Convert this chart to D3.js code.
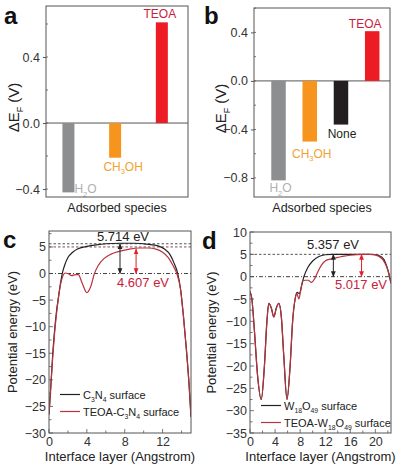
<!DOCTYPE html>
<html><head><meta charset="utf-8">
<script src="https://cdn.jsdelivr.net/npm/d3@7"></script>
<style>
html,body{margin:0;padding:0;background:#fff;}
svg{display:block;font-family:Arial,"Liberation Sans",Helvetica,sans-serif;}
</style></head>
<body>
<svg id="chart" width="400" height="472"></svg>
<script>
// ---------- DATA ----------
const catsA = ["H2O", "CH3OH", "TEOA"];
const valsA = [-0.42, -0.21, 0.61];
const ticksA = [-0.4, 0.0, 0.4];

const catsB = ["H2O", "CH3OH", "None", "TEOA"];
const valsB = [-0.82, -0.50, -0.36, 0.41];
const ticksB = [-0.8, -0.4, 0.0, 0.4];

const xTicksC = [0, 4, 8, 12];
const yTicksC = [-30, -25, -20, -15, -10, -5, 0, 5];
const curveC_C3N4 = [[0,-26.5],[0.2,-21],[0.4,-15],[0.6,-10.5],[0.8,-7],[1.0,-4.5],[1.2,-2],[1.4,0],[1.7,1.8],[2.0,3.0],[2.5,4.0],[3.0,4.6],[4.0,5.1],[5.0,5.4],[6.0,5.6],[7.5,5.7],[9.0,5.7],[10.5,5.5],[11.5,5.2],[12.2,4.6],[12.8,3.5],[13.2,2.0],[13.6,0],[13.9,-3],[14.2,-8],[14.5,-14],[14.8,-21],[15,-27]];
const curveC_TEOA = [[0,-26.5],[0.2,-21],[0.4,-15.5],[0.6,-11],[0.8,-7.5],[1.0,-4.5],[1.2,-2.2],[1.45,-0.5],[1.7,0.1],[2.0,0],[2.4,-0.4],[2.8,-0.2],[3.1,-0.2],[3.5,-1.8],[4.0,-3.6],[4.4,-2.5],[4.8,0],[5.2,1.5],[5.8,2.8],[6.5,3.6],[7.5,4.2],[8.5,4.6],[9.5,4.8],[10.5,4.8],[11.3,4.6],[12.0,4.0],[12.6,3.0],[13.1,1.5],[13.5,0],[13.9,-3],[14.2,-8],[14.5,-14],[14.8,-21],[15,-27]];
const refC = [5.6, 5.0];          // dashed reference levels
const arrowC = [[7.5, 5.6], [9.2, 4.6]]; // [x, top] arrows down to 0
const annC = ["5.714 eV", "4.607 eV"];

const xTicksD = [0, 4, 8, 12, 16, 20];
const yTicksD = [-35, -30, -25, -20, -15, -10, -5, 0, 5, 10];
const curveD_W = [[0,-3.3],[0.3,-5],[0.7,-12],[1.2,-22],[1.8,-27.5],[2.3,-20],[2.7,-10],[3.0,-6],[3.4,-7],[3.8,-9],[4.2,-7],[4.6,-6],[5.0,-9],[5.4,-18],[5.9,-27.5],[6.4,-20],[6.8,-10],[7.2,-5],[7.5,-3.5],[7.9,-3.8],[8.2,-2.2],[8.6,0],[9.2,2],[10,3.5],[11,4.5],[12,4.9],[13,5],[16,5],[19,5],[20,4.9],[21,4.4],[21.6,3.2],[22,1.5],[22.5,-1.5]];
const curveD_TEOA = [[0,-3.3],[0.3,-5],[0.7,-12],[1.2,-22],[1.8,-27.5],[2.3,-20],[2.7,-10],[3.0,-6],[3.4,-7],[3.8,-9],[4.2,-7],[4.6,-6],[5.0,-9],[5.4,-18],[5.9,-27.5],[6.4,-20],[6.8,-10],[7.2,-5],[7.5,-3.8],[7.8,-5],[8.1,-3],[8.4,-1],[8.8,-0.8],[9.3,-0.8],[9.8,-1.3],[10.3,-0.5],[10.8,1.0],[11.4,2.6],[12,3.5],[13,4.0],[14,4.3],[15,4.6],[16,4.8],[18,5],[19.5,5],[20.5,4.6],[21.2,3.8],[21.8,2.2],[22.2,0.5],[22.5,-1.5]];
const refD = [5.0];
const arrowD = [[13.3, 5.0], [17.8, 5.0]];
const annD = ["5.357 eV", "5.017 eV"];

// ---------- STYLE ----------
const barColors = {H2O:"#8d8e90", CH3OH:"#f7941d", None:"#231f20", TEOA:"#ed1c24"};
const labelColors = {H2O:"#b0b0b0", CH3OH:"#f0a232", None:"#231f20", TEOA:"#c9213c"};
const labelParts = {H2O:[["H"],["2",1],["O"]], CH3OH:[["CH"],["3",1],["OH"]], None:[["None"]], TEOA:[["TEOA"]]};
const cBlack = "#222222", cRed = "#b8323f", frameCol = "#555555";

const svg = d3.select("#chart");
const defs = svg.append("defs");
function marker(id, col){
  defs.append("marker").attr("id", id).attr("viewBox","0 0 10 10").attr("refX",9).attr("refY",5)
    .attr("markerWidth",6).attr("markerHeight",6).attr("orient","auto-start-reverse")
    .append("path").attr("d","M0,1L10,5L0,9Z").attr("fill", col);
}
marker("arrK", cBlack); marker("arrR", "#e0202e");

function rich(sel, parts, size){
  parts.forEach(p=>{
    const t = sel.append("tspan").text(p[0]);
    if (p[1]) t.attr("font-size", size*0.62).attr("dy", size*0.28);
    else if (sel.selectAll("tspan").size()>1) t.attr("dy", -size*0.28).attr("font-size", size);
  });
}

// ---------- BAR PANELS ----------
function barPanel(o){
  const g = svg.append("g");
  const x = d3.scaleLinear().domain(o.xDom).range([o.x0, o.x1]);
  const y = d3.scaleLinear().domain(o.yDom).range([o.y1, o.y0]);
  // minor ticks
  const minor = d3.range(Math.ceil(o.yDom[0]/0.2)*0.2, o.yDom[1], 0.2).map(v=>+v.toFixed(2));
  g.selectAll(".mn").data(minor).join("line").attr("x1",o.x0).attr("x2",o.x0+2)
    .attr("y1",d=>y(d)).attr("y2",d=>y(d)).attr("stroke",frameCol).attr("stroke-width",0.8);
  const ax = g.append("g").attr("transform",`translate(${o.x0},0)`)
    .call(d3.axisLeft(y).tickValues(o.ticks).tickFormat(d3.format(".1f")).tickSize(3).tickPadding(3));
  ax.select(".domain").remove();
  ax.selectAll("line").attr("stroke",frameCol);
  ax.selectAll("text").attr("font-size",12.5).attr("fill","#333").attr("font-family","Arial,'Liberation Sans',sans-serif");
  // zero line
  g.append("line").attr("x1",o.x0).attr("x2",o.x1).attr("y1",y(0)).attr("y2",y(0)).attr("stroke",frameCol).attr("stroke-width",1);
  // bars
  g.selectAll(".bar").data(o.vals).join("rect")
    .attr("x",(d,i)=>x(i)-o.bw/2).attr("width",o.bw)
    .attr("y",d=>y(Math.max(0,d))).attr("height",d=>Math.abs(y(d)-y(0)))
    .attr("fill",(d,i)=>barColors[o.cats[i]]);
  // labels
  o.cats.forEach((c,i)=>{
    const v = o.vals[i], off = o.lab[i];
    const t = g.append("text").attr("x", x(i)+off[0]).attr("y", y(v)+off[1])
      .attr("text-anchor", off[2]||"middle").attr("font-size",12).attr("fill",labelColors[c]);
    rich(t, labelParts[c], 12);
  });
  // frame
  g.append("rect").attr("x",o.x0).attr("y",o.y0).attr("width",o.x1-o.x0).attr("height",o.y1-o.y0)
    .attr("fill","none").attr("stroke",frameCol).attr("stroke-width",1);
  // axis titles
  g.append("text").attr("x",(o.x0+o.x1)/2).attr("y",o.y1+15).attr("text-anchor","middle")
    .attr("font-size",12.5).attr("fill","#222").text("Adsorbed species");
  const yt = g.append("text").attr("transform",`translate(${o.titleX},${(o.y0+o.y1)/2+6}) rotate(-90)`)
    .attr("text-anchor","middle").attr("font-size",15).attr("fill","#222");
  yt.append("tspan").text("ΔE");
  yt.append("tspan").text("F").attr("font-size",9).attr("dy",4);
  yt.append("tspan").text(" (V)").attr("font-size",15).attr("dy",-4);
  // panel letter
  svg.append("text").attr("x",o.letterX).attr("y",24).attr("font-size",24).attr("font-weight","bold")
    .attr("fill","#111").text(o.letter);
}

barPanel({cats:catsA, vals:valsA, ticks:ticksA, x0:46, x1:188, y0:6, y1:197,
  xDom:[-0.48,2.56], yDom:[-0.448,0.709], bw:12, titleX:19, letter:"a", letterX:4,
  lab:[[6,1,"start"],[8,13],[-2,-4]]});
barPanel({cats:catsB, vals:valsB, ticks:ticksB, x0:254, x1:390, y0:8, y1:197,
  xDom:[-0.785,3.57], yDom:[-0.957,0.601], bw:14.5, titleX:226, letter:"b", letterX:204,
  lab:[[2,12],[2,16],[1,13],[-7,-3]]});

// ---------- LINE PANELS ----------
function linePanel(o){
  const g = svg.append("g");
  const x = d3.scaleLinear().domain(o.xDom).range([o.x0,o.x1]);
  const y = d3.scaleLinear().domain(o.yDom).range([o.y1,o.y0]);
  const clipId = "clip"+o.letter;
  defs.append("clipPath").attr("id",clipId).append("rect")
    .attr("x",o.x0).attr("y",o.y0).attr("width",o.x1-o.x0).attr("height",o.y1-o.y0);
  // minor ticks
  const mx = d3.range(o.xDom[0], o.xDom[1]+0.001, 2);
  g.selectAll(".mx").data(mx).join("line").attr("x1",d=>x(d)).attr("x2",d=>x(d))
    .attr("y1",o.y1).attr("y2",d=>o.y1-(d%4===0?4:2.5)).attr("stroke",frameCol).attr("stroke-width",0.8);
  const my = d3.range(o.yDom[0], o.yDom[1]+0.001, 2.5);
  g.selectAll(".my").data(my).join("line").attr("x1",o.x0).attr("x2",d=>o.x0+(d%5===0?4:2.5))
    .attr("y1",d=>y(d)).attr("y2",d=>y(d)).attr("stroke",frameCol).attr("stroke-width",0.8);
  // axes labels
  const ax = g.append("g").attr("transform",`translate(0,${o.y1})`)
    .call(d3.axisBottom(x).tickValues(o.xTicks).tickSize(0).tickPadding(4));
  ax.select(".domain").remove();
  ax.selectAll("text").attr("font-size",12.5).attr("fill","#333").attr("font-family","Arial,'Liberation Sans',sans-serif");
  const ay = g.append("g").attr("transform",`translate(${o.x0},0)`)
    .call(d3.axisLeft(y).tickValues(o.yTicks).tickSize(0).tickPadding(3));
  ay.select(".domain").remove();
  ay.selectAll("text").attr("font-size",12.5).attr("fill","#333").attr("font-family","Arial,'Liberation Sans',sans-serif");
  // reference lines
  g.append("line").attr("x1",o.x0).attr("x2",o.x1).attr("y1",y(0)).attr("y2",y(0))
    .attr("stroke","#444").attr("stroke-width",1).attr("stroke-dasharray","4,2,1,2");
  o.refs.forEach((r,i)=>{
    g.append("line").attr("x1",o.x0).attr("x2",o.x1).attr("y1",y(r)).attr("y2",y(r))
      .attr("stroke", i===0?"#555":"#8a4a55").attr("stroke-width",1).attr("stroke-dasharray","2.5,2");
  });
  // curves
  const line = d3.line().x(d=>x(d[0])).y(d=>y(d[1])).curve(d3.curveMonotoneX);
  const cg = g.append("g").attr("clip-path",`url(#${clipId})`);
  cg.append("path").datum(o.black).attr("d",line).attr("fill","none").attr("stroke",cBlack).attr("stroke-width",1.2);
  cg.append("path").datum(o.red).attr("d",line).attr("fill","none").attr("stroke",cRed).attr("stroke-width",1.2);
  // arrows
  o.arrows.forEach((a,i)=>{
    g.append("line").attr("x1",x(a[0])).attr("x2",x(a[0])).attr("y1",y(a[1])).attr("y2",y(0))
      .attr("stroke", i===0?cBlack:"#e0202e").attr("stroke-width",1)
      .attr("marker-start", `url(#${i===0?"arrK":"arrR"})`).attr("marker-end", `url(#${i===0?"arrK":"arrR"})`);
  });
  // annotations
  g.append("text").attr("x",o.ann[0][0]).attr("y",o.ann[0][1]).attr("font-size",13).attr("fill","#222").text(o.annText[0]);
  g.append("text").attr("x",o.ann[1][0]).attr("y",o.ann[1][1]).attr("font-size",13).attr("fill","#c9213c").text(o.annText[1]);
  // legend
  o.legend.forEach((L,i)=>{
    const ly = o.legY[i];
    g.append("line").attr("x1",o.legX).attr("x2",o.legX+20).attr("y1",ly).attr("y2",ly)
      .attr("stroke", i===0?cBlack:cRed).attr("stroke-width",1.2);
    const t = g.append("text").attr("x",o.legX+23).attr("y",ly+4).attr("font-size",11).attr("fill","#222");
    rich(t, L, 11);
  });
  // frame
  g.append("rect").attr("x",o.x0).attr("y",o.y0).attr("width",o.x1-o.x0).attr("height",o.y1-o.y0)
    .attr("fill","none").attr("stroke",frameCol).attr("stroke-width",1);
  // titles
  g.append("text").attr("x",(o.x0+o.x1)/2).attr("y",o.y1+28).attr("text-anchor","middle")
    .attr("font-size",13).attr("fill","#222").text("Interface layer (Angstrom)");
  g.append("text").attr("transform",`translate(${o.titleX},${(o.y0+o.y1)/2}) rotate(-90)`)
    .attr("text-anchor","middle").attr("font-size",13).attr("fill","#222").text("Potential energy (eV)");
  svg.append("text").attr("x",o.letterX).attr("y",o.y0+17).attr("font-size",24).attr("font-weight","bold")
    .attr("fill","#111").text(o.letter);
}

linePanel({letter:"c", letterX:3, x0:49, x1:191, y0:231, y1:433, xDom:[0,15], yDom:[-30,8],
  xTicks:xTicksC, yTicks:yTicksC, black:curveC_C3N4, red:curveC_TEOA, refs:refC, arrows:arrowC,
  ann:[[97,241],[117,287]], annText:annC, titleX:17,
  legX:60, legY:[394.5,411.5],
  legend:[[["C"],["3",1],["N"],["4",1],[" surface"]],[["TEOA-C"],["3",1],["N"],["4",1],[" surface"]]]});
linePanel({letter:"d", letterX:202, x0:250, x1:391, y0:232, y1:433, xDom:[0,22.5], yDom:[-35,10],
  xTicks:xTicksD, yTicks:yTicksD, black:curveD_W, red:curveD_TEOA, refs:refD, arrows:arrowD,
  ann:[[307,249],[335,289]], annText:annD, titleX:216,
  legX:261, legY:[405.5,422.5],
  legend:[[["W"],["18",1],["O"],["49",1],[" surface"]],[["TEOA-W"],["18",1],["O"],["49",1],[" surface"]]]});
</script>
</body></html>
